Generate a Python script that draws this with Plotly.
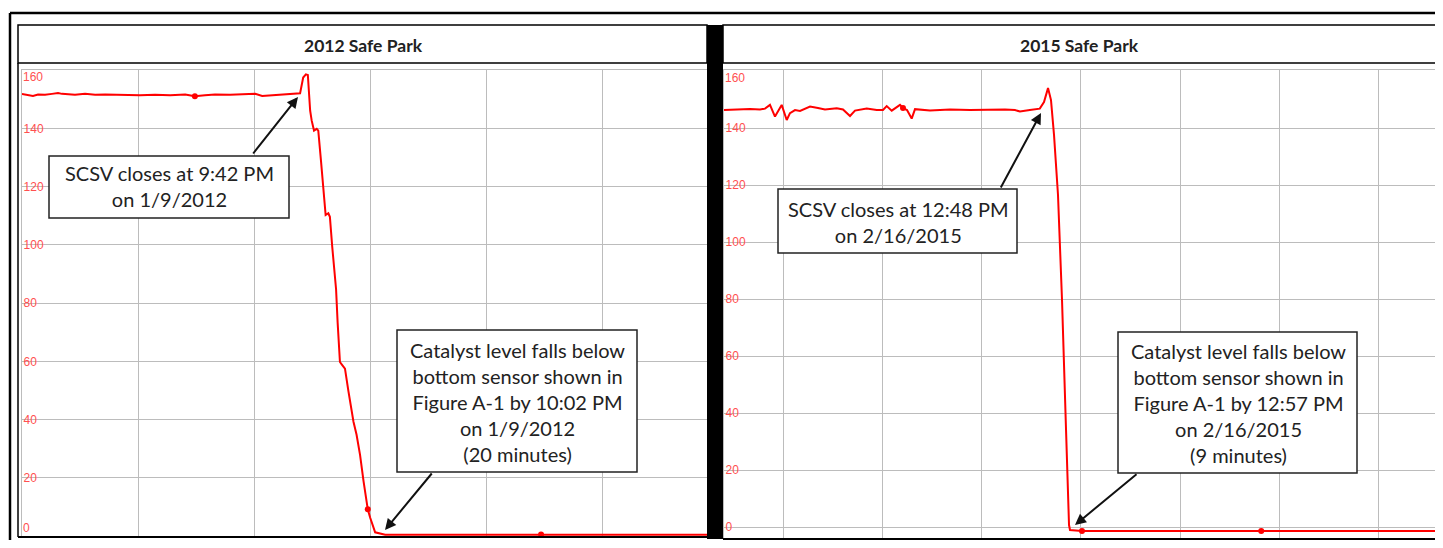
import plotly.graph_objects as go

# ---------------- data ----------------
left_title = "2012 Safe Park"
right_title = "2015 Safe Park"

# minutes from left edge of the 2012 panel (grid every 30 min), catalyst level
left_minutes = [0.0, 1.55, 2.84, 4.14, 5.95, 7.76, 9.31, 10.34, 13.7, 16.3, 18.9, 21.5,
                24.8, 27.9, 30.5, 34.4, 38.3, 42.2, 44.7, 47.3, 49.9, 53.8, 57.7, 60.3,
                62.1, 64.1, 66.7, 69.3, 70.6, 71.9, 72.7, 73.4, 73.9, 74.5, 74.9, 75.5,
                76.2, 76.6, 77.3, 77.9, 78.5, 79.2, 79.6, 80.2, 80.8, 81.2, 81.6, 82.2,
                82.7, 83.5, 84.4, 85.7, 86.5, 87.4, 88.3, 88.9, 89.4, 90.0, 91.3, 93.9,
                110.7, 134.2, 149.5, 177.1]
left_level = [151.9, 151.6, 151.2, 151.7, 151.6, 151.9, 152.2, 151.9, 151.6, 151.9, 151.6, 151.7,
              151.6, 151.7, 151.4, 151.6, 151.4, 151.7, 151.1, 151.4, 151.7, 151.6, 151.9, 151.9,
              151.2, 151.4, 151.6, 151.9, 152.1, 152.1, 157.5, 158.6, 158.4, 146.1, 142.7, 139.3,
              139.9, 139.3, 128.9, 120.0, 110.3, 110.9, 109.7, 99.5, 90.6, 84.8, 73.4, 59.8,
              58.9, 57.5, 49.7, 39.3, 34.8, 27.9, 18.9, 13.2, 9.2, 6.4, 1.3, 0.5,
              0.5, 0.6, 0.5, 0.5]
left_dot_minutes = [44.7, 89.4, 134.2]
left_dot_level = [151.1, 9.2, 0.6]

# minutes from left edge of the 2015 panel (grid every 20 min), catalyst level
right_minutes = [0.0, 2.82, 5.24, 7.25, 8.26, 9.26, 10.27, 11.62, 12.63, 13.29, 14.3, 15.31,
                 17.32, 18.93, 20.34, 22.7, 23.97, 25.38, 26.38, 28.74, 30.76, 32.02, 32.77,
                 33.78, 35.45, 36.05, 36.86, 37.8, 38.47, 41.49, 45.52, 49.55, 53.57, 56.6,
                 58.6, 59.6, 61.6, 63.6, 64.45, 65.26, 65.86, 66.47, 67.27, 68.08, 68.89,
                 69.29, 69.49, 69.69, 72.1, 108.2, 143.4]
right_level = [146.3, 146.6, 146.7, 146.5, 146.8, 148.1, 144.0, 148.1, 142.8, 145.2, 146.3, 146.0,
               147.5, 147.0, 146.5, 146.9, 146.5, 144.2, 146.1, 146.8, 146.3, 146.3, 147.7,
               146.1, 148.1, 147.0, 146.3, 143.3, 146.6, 146.1, 146.5, 146.3, 146.5, 146.5,
               146.3, 145.8, 146.3, 146.8, 149.1, 154.0, 149.8, 137.5, 116.5, 79.6, 34.0,
               11.2, 0.7, -1.05, -1.4, -1.4, -1.4]
right_dot_minutes = [36.05, 72.1, 108.2]
right_dot_level = [147.0, -1.4, -1.4]

y_tick_values = [0, 20, 40, 60, 80, 100, 120, 140, 160]
y_tick_labels = ["0", "20", "40", "60", "80", "100", "120", "140", "160"]

left_close_note = "SCSV closes at 9:42 PM<br>on 1/9/2012"
left_empty_note = ("Catalyst level falls below<br>bottom sensor shown in<br>"
                   "Figure A-1 by 10:02 PM<br>on 1/9/2012<br>(20 minutes)")
right_close_note = "SCSV closes at 12:48 PM<br>on 2/16/2015"
right_empty_note = ("Catalyst level falls below<br>bottom sensor shown in<br>"
                    "Figure A-1 by 12:57 PM<br>on 2/16/2015<br>(9 minutes)")

# ---------------- layout helpers ----------------
W, H, OFF = 1427, 532, 8


def px(sx):
    return (sx - OFF) / W


def py(sy):
    return 1 - (sy - OFF) / H


def clamp(v):
    return max(0.0, min(1.0, v))


RED = "#ff0000"
TICK_RED = "#ff5050"
GRID = "#bcbcbc"
TEXT = "#222222"
TICK_FONT = dict(family="Liberation Sans", size=12, color=TICK_RED)

fig = go.Figure()

fig.add_trace(go.Scatter(x=left_minutes, y=left_level, mode="lines",
                         line=dict(color=RED, width=2), xaxis="x", yaxis="y",
                         showlegend=False, hoverinfo="skip"))
fig.add_trace(go.Scatter(x=left_dot_minutes, y=left_dot_level, mode="markers",
                         marker=dict(color=RED, size=6), xaxis="x", yaxis="y",
                         showlegend=False, hoverinfo="skip"))
fig.add_trace(go.Scatter(x=right_minutes, y=right_level, mode="lines",
                         line=dict(color=RED, width=2), xaxis="x2", yaxis="y2",
                         showlegend=False, hoverinfo="skip"))
fig.add_trace(go.Scatter(x=right_dot_minutes, y=right_dot_level, mode="markers",
                         marker=dict(color=RED, size=6), xaxis="x2", yaxis="y2",
                         showlegend=False, hoverinfo="skip"))

# edge labels (0 on the clipped 2012 axis, 160 on both) are placed just inside the frame
left_axis_text = ["" if v in (0, 160) else t for v, t in zip(y_tick_values, y_tick_labels)]
right_axis_text = ["" if v == 160 else t for v, t in zip(y_tick_values, y_tick_labels)]

axis_common = dict(showgrid=True, gridcolor=GRID, gridwidth=1, zeroline=False,
                   showline=True, linecolor=GRID, linewidth=1, mirror=True,
                   ticks="", fixedrange=True, automargin=False)
yaxis_common = dict(axis_common, tickmode="array", tickvals=y_tick_values,
                    ticklabelposition="inside", ticklabeloverflow="allow",
                    ticklabelstandoff=1, tickfont=TICK_FONT)

fig.update_layout(
    width=W, height=H,
    margin=dict(l=0, r=0, t=0, b=0, autoexpand=False),
    paper_bgcolor="white", plot_bgcolor="white",
    xaxis=dict(axis_common, domain=[clamp(px(22)), clamp(px(707))], range=[0, 177.1],
               tick0=0, dtick=30, showticklabels=False, anchor="y"),
    yaxis=dict(yaxis_common, ticktext=left_axis_text,
               domain=[clamp(py(537)), clamp(py(70))], range=[-0.3, 160.1], anchor="x"),
    xaxis2=dict(axis_common, domain=[clamp(px(724)), clamp(px(1435))], range=[0, 143.2],
                tick0=11.9, dtick=20, showticklabels=False, anchor="y2"),
    yaxis2=dict(yaxis_common, ticktext=right_axis_text,
                domain=[clamp(py(539)), clamp(py(70))], range=[-4.2, 160.35], anchor="x2"),
)

shapes = []


def line(x0, y0, x1, y1, w=1.5, color="black"):
    shapes.append(dict(type="line", xref="paper", yref="paper",
                       x0=px(x0), y0=py(y0), x1=px(x1), y1=py(y1),
                       line=dict(color=color, width=w), layer="above"))


def rect(x0, y0, x1, y1, w=1.5, fill="rgba(0,0,0,0)", color="black"):
    shapes.append(dict(type="rect", xref="paper", yref="paper",
                       x0=px(x0), y0=py(y0), x1=px(x1), y1=py(y1),
                       line=dict(color=color, width=w), fillcolor=fill, layer="above"))


# outer frame
line(10, 13, 1460, 13, w=2.5)
line(10, 13, 10, 560, w=2.5)
# left panel frame
rect(18, 25, 707, 63)
line(18, 63, 18, 537)
line(18, 537, 707, 537, w=2)
# right panel frame
rect(723, 25, 1436, 63)
line(1436, 63, 1436, 539)
line(723, 539, 1436, 539, w=2)
# heavy divider
rect(707, 25, 723, 539, w=0, fill="black")
# annotation boxes
rect(49, 156, 289, 218, fill="white", color="#222222")
rect(397, 330, 637, 472, fill="white", color="#222222")
rect(778, 189, 1017, 253, fill="white", color="#222222")
rect(1118, 332, 1357, 473, fill="white", color="#222222")

fig.update_layout(shapes=shapes)

annotations = []


def text(sx, sy, s, size=20, bold=False):
    annotations.append(dict(xref="paper", yref="paper", x=px(sx), y=py(sy),
                            text=("<b>%s</b>" % s) if bold else s, showarrow=False,
                            xanchor="center", yanchor="middle", align="center",
                            font=dict(family="Lato", size=size, color=TEXT)))


def arrow(tx, ty, hx, hy):
    annotations.append(dict(xref="paper", yref="paper", x=px(hx), y=py(hy),
                            ax=tx - hx, ay=ty - hy, axref="pixel", ayref="pixel",
                            text="", showarrow=True, arrowhead=2, arrowsize=1.1,
                            arrowwidth=2, arrowcolor="#111111", standoff=0))


def edge_label(sx, yref, value, label, shift):
    annotations.append(dict(xref="paper", yref=yref, x=px(sx), y=value, yshift=shift,
                            text=label, showarrow=False, xanchor="left",
                            yanchor="middle", font=TICK_FONT))


text(363, 45, left_title, size=17.5, bold=True)
text(1079, 45, right_title, size=17.5, bold=True)
text(169, 186, left_close_note)
text(517, 402, left_empty_note)
text(898, 222, right_close_note)
text(1238, 403, right_empty_note)
arrow(252, 155, 298, 97)
arrow(433, 472, 385, 530)
arrow(1000, 189, 1041, 113)
arrow(1138, 473, 1075, 525)

top_label = y_tick_labels[y_tick_values.index(160)]
zero_label = y_tick_labels[y_tick_values.index(0)]
edge_label(21, "y", 160, top_label, -7)
edge_label(21, "y", 0, zero_label, 8)
edge_label(723, "y2", 160, top_label, -7)

fig.update_layout(annotations=annotations)

fig.write_html("out.html")
